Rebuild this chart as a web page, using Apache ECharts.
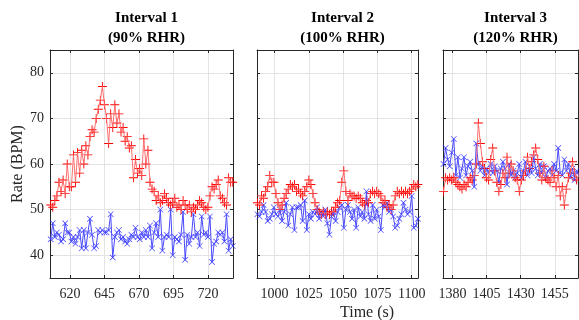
<!DOCTYPE html>
<html>
<head>
<meta charset="utf-8">
<script src="https://cdn.jsdelivr.net/npm/echarts@6/dist/echarts.min.js"></script>
<style>
  html, body { margin: 0; padding: 0; background: #fff; }
  #chart { width: 579px; height: 320px; }
</style>
</head>
<body>
<div id="chart"></div>
<script>
// panel titles and axis ticks
const panelTitles = ['Interval 1\n(90% RHR)', 'Interval 2\n(100% RHR)', 'Interval 3\n(120% RHR)'];
const xTicks1 = [620, 645, 670, 695, 720];
const xTicks2 = [1000, 1025, 1050, 1075, 1100];
const xTicks3 = [1380, 1405, 1430, 1455];
const yTicks = [40, 50, 60, 70, 80];

// sample times: start (s) and step (s) per interval
const tStart1 = 606, tStart2 = 987.5, tStart3 = 1373.5;
const tStep = 1.5;

// interval 1
const red1 = [51, 50.5, 52, 53, 56, 54, 56.5, 53.5, 60, 55, 55, 62, 56, 62.5, 58, 63, 60, 64, 62, 66,
  67.5, 67, 70, 72, 74, 77, 73, 70, 64.5, 71, 68, 73, 69, 71, 67, 68, 65, 66, 63.5, 64,
  57, 61, 58, 59, 57.5, 65.5, 60, 63, 56, 54.5, 54, 52, 53, 51.5, 52, 53.5, 52.5, 51.5, 51, 51.5,
  52.5, 50.5, 51, 50, 52, 51, 50, 51, 49.5, 50.5, 50, 51, 52, 51.5, 50.5, 50, 50.5, 53, 55, 54.5,
  55.5, 56.5, 53, 52.5, 51.5, 51, 57, 56, 56];
const blue1 = [43.5, 47, 44, 45, 44.5, 43, 43.5, 47, 45, 45, 43, 44, 42.5, 44, 45.5, 41.5, 45.5, 41.5, 45, 48,
  44.5, 41.5, 42, 45.5, 45, 45.5, 45, 45, 45.5, 49, 39.5, 44, 45, 45.5, 43.5, 44, 43, 42.5, 43.5, 44.5,
  44, 46, 44, 43.5, 45, 44, 45.5, 44, 46.5, 41.5, 45, 47, 44, 50, 41, 44, 44.5, 44, 50, 40,
  44, 43.5, 43, 44.5, 49.5, 39, 44.5, 42.5, 44, 49, 44, 45, 42, 48.5, 44.5, 45, 44, 48.5, 38.5, 42.5,
  43, 45, 44.5, 45, 43, 49, 41, 43.5, 42];

// interval 2
const red2 = [51.5, 51, 53, 52.5, 54, 55, 57.5, 56, 56, 53.5, 51.5, 50, 51, 52.5, 53.5, 54.5, 55.5, 55, 55.5, 54,
  54.5, 53.5, 53, 54, 55, 56.5, 55.5, 53.5, 51.5, 50, 49.5, 49, 49.5, 49, 49.5, 49, 49.5, 49.5, 50.5, 51.5,
  52, 56, 58.5, 54, 52, 53.5, 53, 53, 52.5, 53, 52.5, 51.5, 51, 52, 51.5, 53.5, 54, 53.5, 54, 53.5,
  53, 51.5, 52, 50.5, 51, 50, 51, 53, 54, 53.5, 54, 53.5, 54, 53.5, 54, 54.5, 55.5, 55, 55.5];
const blue2 = [49, 48.5, 49.5, 51, 49.5, 47.5, 48, 49, 50.5, 49, 48.5, 50, 47.5, 49.5, 51.5, 46.5, 49, 50.5, 45.5, 50.5,
  50.5, 51, 47.5, 52, 45.5, 49, 48, 49.5, 49, 50.5, 48, 49.5, 48.5, 50, 47, 44.5, 48.5, 49.5, 47.5, 49.5,
  50.5, 51, 46, 50, 51, 49.5, 48, 50, 46, 50.5, 48.5, 49.5, 48, 54, 49, 47.5, 51, 48, 50, 48.5,
  45.5, 51, 50.5, 51.5, 49.5, 50, 48.5, 46, 46.5, 48, 49, 51.5, 50, 49, 49.5, 53, 46, 46.5, 48];

// interval 3
const red3 = [54, 57, 56.5, 57, 56.5, 57, 56, 55.5, 55, 54.5, 55.5, 55, 56, 57, 56.5, 57.5, 60, 69, 64.5, 60.5,
  59, 57, 56.5, 61, 63.5, 58.5, 56, 54, 55.5, 58, 57, 61.5, 58, 60, 58.5, 57, 56.5, 54, 56.5, 57.5,
  58.5, 61.5, 59, 60.5, 62, 63.5, 61, 58, 56.5, 59.5, 57, 56.5, 56, 58.5, 57, 55, 57.5, 53, 55, 51,
  54.5, 57, 58, 60.5, 58, 56.5, 57.5];
const blue3 = [60, 63.5, 61, 59.5, 62.5, 65.5, 57.5, 61.5, 57, 59, 61.5, 57.5, 59.5, 60.5, 58.5, 55, 64.5, 60, 58.5, 59.5,
  57.5, 59, 58, 60, 58, 59.5, 58.5, 56, 59, 60.5, 59, 55.5, 60, 57.5, 58.5, 57, 58, 60, 57, 58.5,
  60.5, 57.5, 59.5, 58, 61.5, 59, 57.5, 60, 58, 59.5, 57, 58.5, 59, 57.5, 60, 58.5, 63.5, 58, 57.5, 61,
  58.5, 60, 57, 59, 56.5, 58.5, 57.5];

const panels = [
  { red: red1, blue: blue1, t0: tStart1, ticks: xTicks1, min: 605.5, max: 738.2, left: 50, width: 183 },
  { red: red2, blue: blue2, t0: tStart2, ticks: xTicks2, min: 987.2, max: 1104.6, left: 257, width: 161 },
  { red: red3, blue: blue3, t0: tStart3, ticks: xTicks3, min: 1373.1, max: 1472, left: 443, width: 135 }
];

const FONT = '"Liberation Serif", "Times New Roman", serif';
const FRAME = '#262626';
// filled outlines so the markers need no stroke
const plusPath = 'path://M4.5,0H5.5V4.5H10V5.5H5.5V10H4.5V5.5H0V4.5H4.5Z';
const crossPath = 'path://M0,0.7L0.7,0L5,4.3L9.3,0L10,0.7L5.7,5L10,9.3L9.3,10L5,5.7L0.7,10L0,9.3L4.3,5Z';

const toPairs = (vals, t0) => vals.map((v, i) => [t0 + i * tStep, v]);

const grid = [], xAxis = [], yAxis = [], series = [], title = [];

panels.forEach((p, k) => {
  grid.push({ left: p.left, top: 50, width: p.width, height: 228 });
  title.push({
    text: panelTitles[k],
    left: p.left + p.width / 2,
    top: 3,
    textAlign: 'center',
    textStyle: { fontFamily: FONT, fontWeight: 'bold', fontSize: 15, lineHeight: 20, color: '#000' }
  });
  const base = {
    gridIndex: k, type: 'value', min: p.min, max: p.max,
    axisLine: { show: true, onZero: false, lineStyle: { color: FRAME, width: 1 } }
  };
  xAxis.push(Object.assign({}, base, {
    position: 'bottom',
    axisTick: { show: true, inside: true, length: 3, customValues: p.ticks, lineStyle: { color: FRAME } },
    axisLabel: {
      customValues: p.ticks, margin: 9, fontFamily: FONT, fontSize: 14, color: '#262626',
      formatter: (v) => String(v)
    },
    splitLine: { show: true, lineStyle: { color: '#e3e3e3', width: 1 } }
  }));
  xAxis.push(Object.assign({}, base, {
    position: 'top',
    axisTick: { show: true, inside: true, length: 3, customValues: p.ticks, lineStyle: { color: FRAME } },
    axisLabel: { show: false },
    splitLine: { show: false }
  }));
  const ybase = {
    gridIndex: k, type: 'value', min: 35, max: 85,
    axisLine: { show: true, onZero: false, lineStyle: { color: FRAME, width: 1 } }
  };
  yAxis.push(Object.assign({}, ybase, {
    position: 'left',
    name: k === 0 ? 'Rate (BPM)' : '',
    nameLocation: 'middle',
    nameGap: 22,
    nameTextStyle: { fontFamily: FONT, fontSize: 16, color: '#262626' },
    axisTick: { show: true, inside: true, length: 3, customValues: yTicks, lineStyle: { color: FRAME } },
    axisLabel: { show: k === 0, customValues: yTicks, margin: 6, fontFamily: FONT, fontSize: 14, color: '#262626' },
    splitLine: { show: true, lineStyle: { color: '#e3e3e3', width: 1 } }
  }));
  yAxis.push(Object.assign({}, ybase, {
    position: 'right',
    axisTick: { show: true, inside: true, length: 3, customValues: yTicks, lineStyle: { color: FRAME } },
    axisLabel: { show: false },
    splitLine: { show: false }
  }));

  const bluePts = toPairs(p.blue, p.t0);
  const redPts = toPairs(p.red, p.t0);
  const ax = { xAxisIndex: 2 * k, yAxisIndex: 2 * k, emphasis: { disabled: true }, silent: true };
  series.push(Object.assign({
    type: 'line', data: bluePts, showSymbol: false,
    lineStyle: { color: '#4a4aff', width: 1 }
  }, ax));
  series.push(Object.assign({
    type: 'scatter', data: bluePts, symbol: crossPath, symbolSize: 6,
    itemStyle: { color: '#2a2aff', opacity: 1 }
  }, ax));
  series.push(Object.assign({
    type: 'line', data: redPts, showSymbol: false,
    lineStyle: { color: '#ff7070', width: 1 }
  }, ax));
  series.push(Object.assign({
    type: 'scatter', data: redPts, symbol: plusPath, symbolSize: 9,
    itemStyle: { color: '#ff0000', opacity: 1 }
  }, ax));
});

const chart = echarts.init(document.getElementById('chart'));
chart.setOption({
  animation: false,
  backgroundColor: '#fff',
  title: title,
  grid: grid,
  xAxis: xAxis,
  yAxis: yAxis,
  series: series,
  graphic: [{
    type: 'text',
    left: 340, top: 305,
    style: { text: 'Time (s)', fontFamily: FONT, fontSize: 16, fill: '#262626', textAlign: 'center' }
  }]
});
</script>
</body>
</html>
